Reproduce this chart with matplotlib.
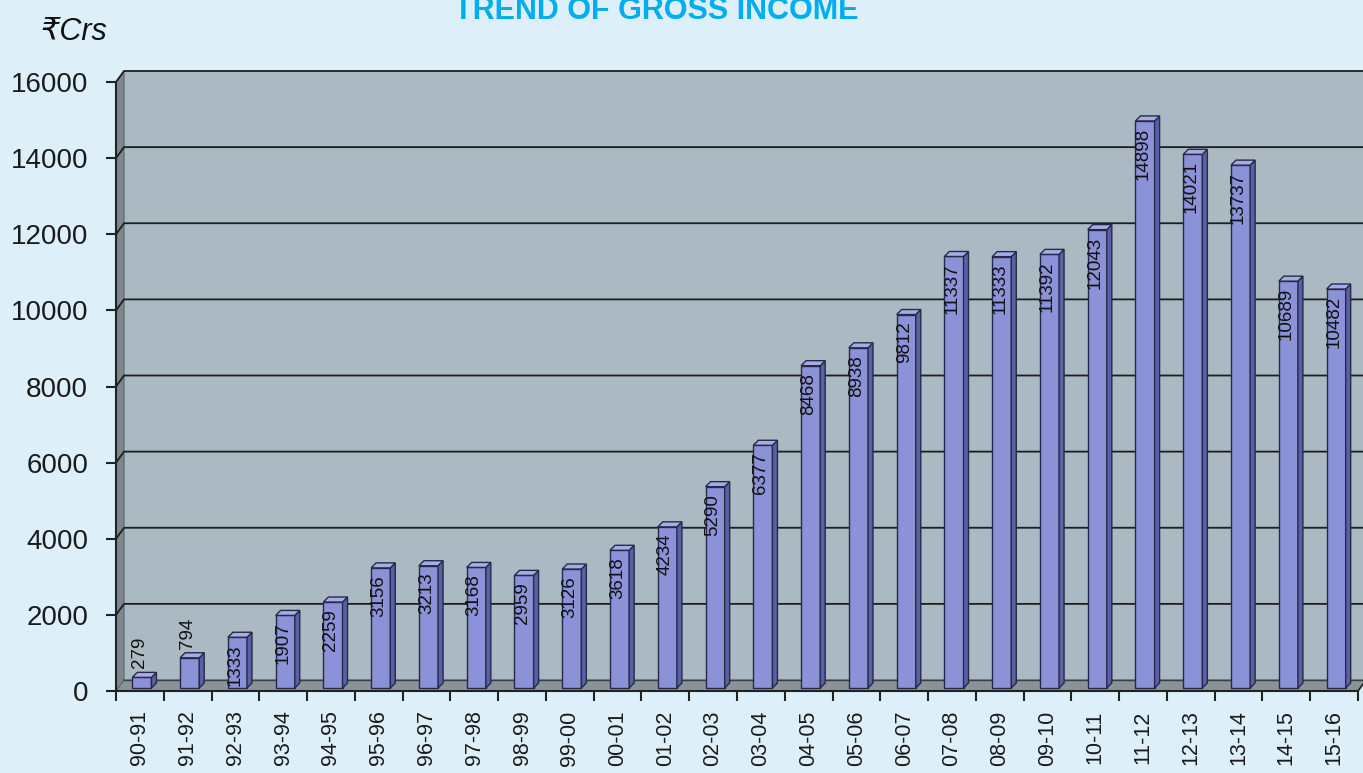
import matplotlib
matplotlib.use("Agg")
import matplotlib.pyplot as plt
from matplotlib.patches import Polygon, Rectangle

years = ["90-91", "91-92", "92-93", "93-94", "94-95", "95-96", "96-97", "97-98",
         "98-99", "99-00", "00-01", "01-02", "02-03", "03-04", "04-05", "05-06",
         "06-07", "07-08", "08-09", "09-10", "10-11", "11-12", "12-13", "13-14",
         "14-15", "15-16"]
income = [279, 794, 1333, 1907, 2259, 3156, 3213, 3168, 2959, 3126, 3618, 4234,
          5290, 6377, 8468, 8938, 9812, 11337, 11333, 11392, 12043, 14898, 14021,
          13737, 10689, 10482]
yticks = [0, 2000, 4000, 6000, 8000, 10000, 12000, 14000, 16000]

BG = "#ddf0fa"
WALL = "#abb9c2"
SIDE_WALL = "#7d878d"
FLOOR = "#8a9398"
GRID = "#1e1e1e"
BAR = "#8b92d8"
BAR_SIDE = "#5a60a6"
BAR_TOP = "#a7ace8"
BAR_EDGE = "#262a48"

W, H = 1363, 773
fig = plt.figure(figsize=(W / 100, H / 100), dpi=100, facecolor=BG)
x0, x1, y0, y1 = 116, 1358, 691, 82
ax = fig.add_axes([x0 / W, (H - y0) / H, (x1 - x0) / W, (y0 - y1) / H])
ax.set_facecolor("none")
n = len(years)
ax.set_xlim(0, n)
ax.set_ylim(0, 16000)

# pixel -> data unit helpers
px = n / (x1 - x0)
py = 16000 / (y0 - y1)
ddx, ddy = 8 * px, 11 * py      # wall depth
bdx, bdy = 5 * px, 5 * py       # bar depth
xr = (W - x0) * px + 0.05

# back wall, left wall, floor
ax.add_patch(Polygon([(ddx, ddy), (xr, ddy), (xr, 16000 + ddy), (ddx, 16000 + ddy)],
                     closed=True, fc=WALL, ec="none", zorder=0, clip_on=False))
ax.add_patch(Polygon([(0, 0), (0, 16000), (ddx, 16000 + ddy), (ddx, ddy)],
                     closed=True, fc=SIDE_WALL, ec="#5c6468", lw=0.8, zorder=1, clip_on=False))
ax.add_patch(Polygon([(0, 0), (n, 0), (n + ddx, ddy), (xr, ddy), (xr, ddy), (ddx, ddy)],
                     closed=True, fc=FLOOR, ec="#5c6468", lw=0.8, zorder=1, clip_on=False))

# gridlines on back wall and left wall
for v in yticks[1:]:
    ax.plot([0, ddx, xr], [v, v + ddy, v + ddy], color=GRID, lw=1.3,
            zorder=2, clip_on=False, solid_capstyle="butt")
ax.plot([ddx, xr], [ddy, ddy], color="#3a3f42", lw=1.0, zorder=2, clip_on=False)

# 3D bars
bw = 0.4
label_font = dict(rotation=90, ha="center", fontsize=13.5, color="#111111",
                  family="Liberation Sans", zorder=6)
for i, v in enumerate(income):
    left = i + 0.5 - bw / 2 + 2 * px
    base = 3 * py
    right = left + bw
    top = base + v
    ax.add_patch(Rectangle((left, base), bw, v, fc=BAR, ec=BAR_EDGE, lw=1.0,
                           zorder=4, clip_on=False))
    ax.add_patch(Polygon([(right, base), (right + bdx, base + bdy),
                          (right + bdx, top + bdy), (right, top)],
                         closed=True, fc=BAR_SIDE, ec=BAR_EDGE, lw=1.0, zorder=4, clip_on=False))
    ax.add_patch(Polygon([(left, top), (right, top), (right + bdx, top + bdy),
                          (left + bdx, top + bdy)],
                         closed=True, fc=BAR_TOP, ec=BAR_EDGE, lw=1.0, zorder=4, clip_on=False))
    if v < 1000:
        ax.text(i + 0.5, top + 9 * py, str(v), va="bottom", **label_font)
    else:
        ax.text(i + 0.5, top - 7 * py, str(v), va="top", **label_font)

# axes lines and ticks
for s in ["top", "right"]:
    ax.spines[s].set_visible(False)
for s in ["left", "bottom"]:
    ax.spines[s].set_color("#222222")
    ax.spines[s].set_linewidth(1.5)
    ax.spines[s].set_zorder(5)
ax.plot([n, n + ddx], [0, ddy], color="#222222", lw=1.2, clip_on=False, zorder=5)

ax.set_yticks(yticks)
ax.set_yticklabels([str(t) for t in yticks], fontsize=20, family="Liberation Sans",
                   color="#1a1a1a")
ax.tick_params(axis="y", direction="out", length=7, width=1.5, color="#222222", pad=13)

ax.set_xticks(range(n + 1))
ax.set_xticklabels([])
ax.tick_params(axis="x", which="major", direction="out", length=7, width=1.5, color="#222222")
ax.set_xticks([i + 0.5 for i in range(n)], minor=True)
ax.set_xticklabels(years, minor=True, rotation=90, fontsize=15.5, family="Liberation Sans",
                   color="#1a1a1a")
ax.tick_params(axis="x", which="minor", length=0, pad=14)

fig.text(40 / W, 1 - 32 / H, "\u20b9Crs", fontsize=22, style="italic", va="center",
         ha="left", family=["Liberation Sans", "DejaVu Sans"], color="#111111")
fig.text(656 / W, 1 - 19 / H, "TREND OF GROSS INCOME", fontsize=22, fontweight="bold",
         ha="center", va="baseline", color="#00aeef", family="Liberation Sans")

fig.savefig("out.png", dpi=100, facecolor=BG)
